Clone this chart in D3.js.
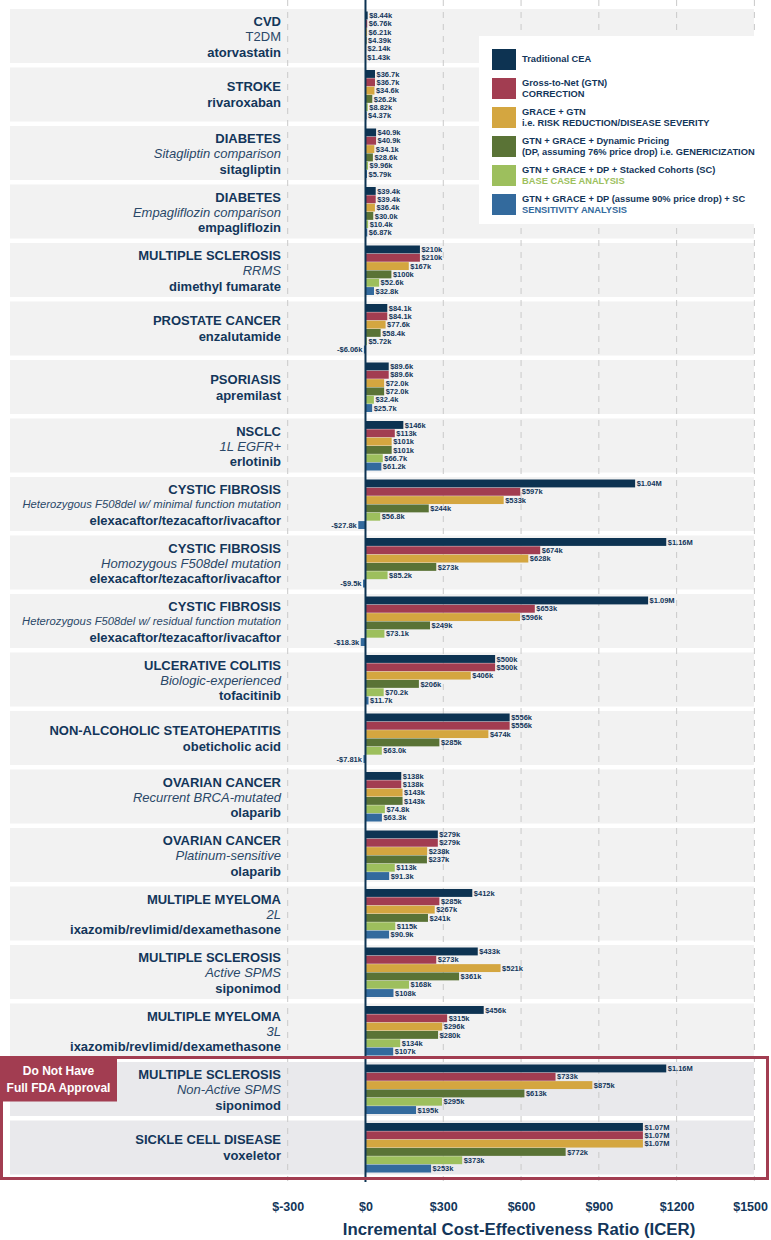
<!DOCTYPE html>
<html>
<head>
<meta charset="utf-8">
<script src="https://cdn.jsdelivr.net/npm/d3@7"></script>
<style>
  body { margin: 0; background: #fff; }
  svg { display: block; font-family: "Liberation Sans", Arial, sans-serif; }
</style>
</head>
<body>
<svg id="chart" width="771" height="1240"></svg>
<script>
// ---- data (values in $k) ----
const titles = ["CVD", "STROKE", "DIABETES", "DIABETES", "MULTIPLE SCLEROSIS", "PROSTATE CANCER",
  "PSORIASIS", "NSCLC", "CYSTIC FIBROSIS", "CYSTIC FIBROSIS", "CYSTIC FIBROSIS", "ULCERATIVE COLITIS",
  "NON-ALCOHOLIC STEATOHEPATITIS", "OVARIAN CANCER", "OVARIAN CANCER", "MULTIPLE MYELOMA",
  "MULTIPLE SCLEROSIS", "MULTIPLE MYELOMA", "MULTIPLE SCLEROSIS", "SICKLE CELL DISEASE"];
const subtitles = ["T2DM", "", "Sitagliptin comparison", "Empagliflozin comparison", "RRMS", "",
  "", "1L EGFR+", "Heterozygous F508del w/ minimal function mutation", "Homozygous F508del mutation",
  "Heterozygous F508del w/ residual function mutation", "Biologic-experienced", "",
  "Recurrent BRCA-mutated", "Platinum-sensitive", "2L", "Active SPMS", "3L", "Non-Active SPMS", ""];
const drugs = ["atorvastatin", "rivaroxaban", "sitagliptin", "empagliflozin", "dimethyl fumarate",
  "enzalutamide", "apremilast", "erlotinib", "elexacaftor/tezacaftor/ivacaftor",
  "elexacaftor/tezacaftor/ivacaftor", "elexacaftor/tezacaftor/ivacaftor", "tofacitinib",
  "obeticholic acid", "olaparib", "olaparib", "ixazomib/revlimid/dexamethasone", "siponimod",
  "ixazomib/revlimid/dexamethasone", "siponimod", "voxeletor"];

const traditionalCEA = [8.44, 36.7, 40.9, 39.4, 210, 84.1, 89.6, 146, 1040, 1160, 1090, 500, 556, 138, 279, 412, 433, 456, 1160, 1070];
const gtnCorrection  = [6.76, 36.7, 40.9, 39.4, 210, 84.1, 89.6, 113, 597, 674, 653, 500, 556, 138, 279, 285, 273, 315, 733, 1070];
const graceGtn       = [6.21, 34.6, 34.1, 36.4, 167, 77.6, 72.0, 101, 533, 628, 596, 406, 474, 143, 238, 267, 521, 296, 875, 1070];
const dynamicPricing = [4.39, 26.2, 28.6, 30.0, 100, 58.4, 72.0, 101, 244, 273, 249, 206, 285, 143, 237, 241, 361, 280, 613, 772];
const stackedCohorts = [2.14, 8.82, 9.96, 10.4, 52.6, 5.72, 32.4, 66.7, 56.8, 85.2, 73.1, 70.2, 63.0, 74.8, 113, 115, 168, 134, 295, 373];
const sensitivity    = [1.43, 4.37, 5.79, 6.87, 32.8, -6.06, 25.7, 61.2, -27.8, -9.5, -18.3, 11.7, -7.81, 63.3, 91.3, 90.9, 108, 107, 195, 253];

const legendLabels = [
  ["Traditional CEA"],
  ["Gross-to-Net (GTN)", "CORRECTION"],
  ["GRACE + GTN", "i.e. RISK REDUCTION/DISEASE SEVERITY"],
  ["GTN + GRACE + Dynamic Pricing", "(DP, assuming 76% price drop) i.e. GENERICIZATION"],
  ["GTN + GRACE + DP + Stacked Cohorts (SC)", "BASE CASE ANALYSIS"],
  ["GTN + GRACE + DP (assume 90% price drop) + SC", "SENSITIVITY ANALYSIS"]
];
const xTicks = [-300, 0, 300, 600, 900, 1200, 1500];
const notApprovedCount = 2; // last groups without full FDA approval
const axisTitle = "Incremental Cost-Effectiveness Ratio (ICER)";

// ---- styling ----
const series = [traditionalCEA, gtnCorrection, graceGtn, dynamicPricing, stackedCohorts, sensitivity];
const colors = ["#0d3352", "#a23d51", "#d4a640", "#5a7336", "#9dbf5d", "#336a9d"];
const ink = "#13365a";
const boxRed = "#a23d51";

const svg = d3.select("#chart");
const n = titles.length;

const x = d3.scaleLinear().domain([-300, 1500]).range([287.7, 754.4]);
const y = d3.scaleBand().domain(d3.range(n)).range([9, 1174.5]).paddingInner(4.5 / 58.5);
const yi = d3.scaleBand().domain(d3.range(6)).range([2.5, 52]).paddingInner(0.05);

// $k values: millions get 2 decimals, others 3 significant digits unless already short decimals
const fmt = v => {
  const a = Math.abs(v);
  let s;
  if (a >= 1000) s = "$" + (a / 1000).toFixed(2) + "M";
  else s = "$" + (String(a).includes(".") ? String(a) : a.toPrecision(3)) + "k";
  return (v < 0 ? "-" : "") + s;
};

// group backgrounds
svg.append("g").selectAll("rect")
  .data(d3.range(n))
  .join("rect")
  .attr("x", 10)
  .attr("width", 744)
  .attr("y", i => y(i))
  .attr("height", y.bandwidth())
  .attr("fill", i => i >= n - notApprovedCount ? "#e9e9ec" : "#f2f2f2");

// dashed grid
svg.append("g").selectAll("line")
  .data(xTicks.filter(t => t !== 0))
  .join("line")
  .attr("x1", d => x(d)).attr("x2", d => x(d))
  .attr("y1", 0).attr("y2", 1181)
  .attr("stroke", "#c9c9c9")
  .attr("stroke-width", 1)
  .attr("stroke-dasharray", "6,6");

// bars
const groups = svg.append("g").selectAll("g")
  .data(d3.range(n))
  .join("g")
  .attr("transform", i => `translate(0,${y(i)})`);

groups.selectAll("rect")
  .data(i => series.map((s, k) => ({ k, v: s[i] })))
  .join("rect")
  .attr("x", d => x(Math.min(0, d.v)))
  .attr("width", d => Math.abs(x(d.v) - x(0)))
  .attr("y", d => yi(d.k))
  .attr("height", yi.bandwidth())
  .attr("fill", d => colors[d.k]);

groups.selectAll("text")
  .data(i => series.map((s, k) => ({ k, v: s[i] })))
  .join("text")
  .attr("x", d => d.v < 0 ? x(d.v) - 1.5 : x(d.v) + 1.5)
  .attr("y", d => yi(d.k) + yi.bandwidth() / 2)
  .attr("dy", "0.35em")
  .attr("text-anchor", d => d.v < 0 ? "end" : "start")
  .attr("font-size", 7.5)
  .attr("font-weight", "bold")
  .attr("fill", ink)
  .text(d => fmt(d.v));

// group labels
const labels = svg.append("g").selectAll("text")
  .data(d3.range(n))
  .join("text")
  .attr("text-anchor", "end")
  .attr("fill", ink)
  .attr("font-size", 13);

labels.each(function (i) {
  const t = d3.select(this);
  const mid = y(i) + y.bandwidth() / 2;
  const lines = subtitles[i]
    ? [[titles[i], "bold", -14.5], [subtitles[i], "sub", 0.5], [drugs[i], "bold", 16]]
    : [[titles[i], "bold", -8], [drugs[i], "bold", 8]];
  lines.forEach(([txt, kind, off]) => {
    const ts = t.append("tspan")
      .attr("x", 281)
      .attr("y", mid + off)
      .attr("dy", "0.35em")
      .text(txt);
    if (kind === "bold") ts.attr("font-weight", "bold");
    else ts.attr("font-style", txt === "T2DM" ? "normal" : "italic").attr("fill", "#2a4868");
    const len = ts.node().getComputedTextLength();
    if (len > 259) ts.attr("font-size", 13 * 259 / len);
  });
});

// zero line
svg.append("line")
  .attr("x1", x(0)).attr("x2", x(0))
  .attr("y1", 0).attr("y2", 1182)
  .attr("stroke", "#0d3352")
  .attr("stroke-width", 2);

// not-approved box
const firstNA = n - notApprovedCount;
const boxTop = y(firstNA) - 4.5;
const boxBottom = y(n - 1) + y.bandwidth() + 4;
svg.append("rect")
  .attr("x", 1.5).attr("y", boxTop)
  .attr("width", 766).attr("height", boxBottom - boxTop)
  .attr("fill", "none")
  .attr("stroke", boxRed)
  .attr("stroke-width", 3);
svg.append("rect")
  .attr("x", 0).attr("y", boxTop)
  .attr("width", 117).attr("height", 44)
  .attr("fill", boxRed);
svg.append("text")
  .attr("x", 58.5).attr("y", boxTop + 22)
  .attr("text-anchor", "middle")
  .attr("fill", "#fff")
  .attr("font-weight", "bold")
  .attr("font-size", 12)
  .selectAll("tspan")
  .data(["Do Not Have", "Full FDA Approval"])
  .join("tspan")
  .attr("x", 58.5)
  .attr("dy", (d, k) => k === 0 ? "-0.35em" : "1.35em")
  .text(d => d);

// legend
const leg = svg.append("g").attr("transform", "translate(479,36)");
leg.append("rect").attr("width", 276).attr("height", 188).attr("fill", "#fff");
legendLabels.forEach((lines, k) => {
  const sy = 13 + k * 29;
  leg.append("rect")
    .attr("x", 13).attr("y", sy)
    .attr("width", 24).attr("height", 21)
    .attr("fill", colors[k]);
  lines.forEach((txt, j) => {
    const off = lines.length === 1 ? -1 : (j === 0 ? -6 : 5.5);
    leg.append("text")
      .attr("x", 43)
      .attr("y", sy + 10.5 + off)
      .attr("dy", "0.35em")
      .attr("font-size", 9.3)
      .attr("font-weight", "bold")
      .attr("fill", j === 1 && k >= 4 ? colors[k] : ink)
      .text(txt);
  });
});

// x axis
const axis = svg.append("g")
  .attr("transform", "translate(0,1202)")
  .call(d3.axisBottom(x).tickValues(xTicks).tickSize(0).tickPadding(0).tickFormat(d => "$" + d));
axis.select(".domain").remove();
axis.selectAll("text")
  .attr("font-family", "'Liberation Sans', Arial, sans-serif")
  .attr("font-size", 12.5)
  .attr("font-weight", "bold")
  .attr("fill", ink);
// keep the last tick label inside the frame
axis.selectAll(".tick text").each(function () {
  const b = this.getBBox();
  const tx = +this.parentNode.getAttribute("transform").match(/translate\(([-\d.]+)/)[1];
  const over = tx + b.x + b.width - 768;
  if (over > 0) d3.select(this).attr("x", -over);
});

svg.append("text")
  .attr("x", 519).attr("y", 1229)
  .attr("dy", "0.35em")
  .attr("text-anchor", "middle")
  .attr("font-size", 16.8)
  .attr("font-weight", "bold")
  .attr("fill", ink)
  .text(axisTitle);
</script>
</body>
</html>
